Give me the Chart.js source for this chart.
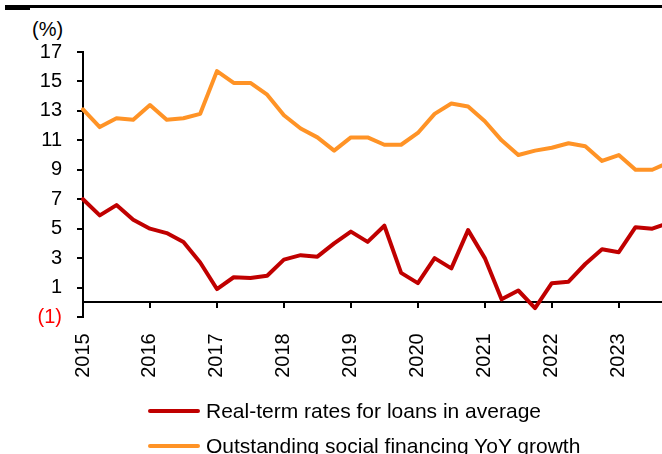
<!DOCTYPE html>
<html>
<head>
<meta charset="utf-8">
<script src="https://cdn.jsdelivr.net/npm/chart.js@4.4.1/dist/chart.umd.min.js"></script>
<style>
  html, body { margin: 0; padding: 0; background: #fff; overflow: hidden; width: 662px; height: 454px; }
  body { position: relative; font-family: "Liberation Sans", Arial, sans-serif; color: #000; }
  #chartBox { position: absolute; left: 0; top: 0; }
  .rule { position: absolute; background: #000; }
  #unit { position: absolute; left: 32px; top: 18px; font-size: 20px; line-height: 23px; }
  #legend { position: absolute; left: 148px; top: 394px; }
  .legend-item { display: flex; align-items: center; height: 34.5px; font-size: 21px; white-space: nowrap; }
  .legend-line { width: 52px; height: 4px; border-radius: 2px; margin-right: 6px; }
</style>
</head>
<body>
<div class="rule" style="left:5px; top:5px; width:657px; height:3px;"></div>
<div class="rule" style="left:5px; top:6px; width:25px; height:4px;"></div>
<div id="unit">(%)</div>
<canvas id="chartBox" width="672" height="454"></canvas>
<div id="legend"></div>
<script>
const quarters = [
  '2015Q1', '2015Q2', '2015Q3', '2015Q4',
  '2016Q1', '2016Q2', '2016Q3', '2016Q4',
  '2017Q1', '2017Q2', '2017Q3', '2017Q4',
  '2018Q1', '2018Q2', '2018Q3', '2018Q4',
  '2019Q1', '2019Q2', '2019Q3', '2019Q4',
  '2020Q1', '2020Q2', '2020Q3', '2020Q4',
  '2021Q1', '2021Q2', '2021Q3', '2021Q4',
  '2022Q1', '2022Q2', '2022Q3', '2022Q4',
  '2023Q1', '2023Q2', '2023Q3', '2023Q4'
];

// real-term average lending rate (%)
const realLoanRate = [
  7.0, 5.9, 6.6, 5.6, 5.0, 4.7, 4.1, 2.7,
  0.9, 1.7, 1.65, 1.8, 2.9, 3.2, 3.1, 4.0,
  4.8, 4.1, 5.2, 2.0, 1.3, 3.0, 2.3, 4.9,
  3.0, 0.2, 0.8, -0.4, 1.3, 1.4, 2.6, 3.6,
  3.4, 5.1, 5.0, 5.4
];

// outstanding social financing, YoY (%)
const socialFinancingGrowth = [
  13.1, 11.9, 12.5, 12.4, 13.4, 12.4, 12.5, 12.8,
  15.7, 14.9, 14.9, 14.1, 12.7, 11.8, 11.2, 10.3,
  11.2, 11.2, 10.7, 10.7, 11.5, 12.8, 13.5, 13.3,
  12.3, 11.0, 10.0, 10.3, 10.5, 10.8, 10.6, 9.6,
  10.0, 9.0, 9.0, 9.5
];

const seriesNames = ['Real-term rates for loans in average', 'Outstanding social financing YoY growth'];
const seriesColors = ['#C00000', '#FF9326'];

const yMin = -1;
const yMax = 17;
const yStep = 2;

const tickFont = { family: "'Liberation Sans', Arial, sans-serif", size: 20 };

const ctx = document.getElementById('chartBox').getContext('2d');

const chart = new Chart(ctx, {
  type: 'line',
  data: {
    labels: quarters,
    datasets: [
      { label: seriesNames[0], data: realLoanRate, borderColor: seriesColors[0], backgroundColor: seriesColors[0] },
      { label: seriesNames[1], data: socialFinancingGrowth, borderColor: seriesColors[1], backgroundColor: seriesColors[1] }
    ]
  },
  options: {
    responsive: false,
    animation: false,
    layout: { padding: { top: 52, right: 3, bottom: 137, left: 0 } },
    plugins: {
      legend: { display: false },
      tooltip: { enabled: false }
    },
    elements: {
      point: { radius: 0 },
      line: { borderWidth: 4, tension: 0, borderJoinStyle: 'round', borderCapStyle: 'round' }
    },
    scales: {
      x: {
        type: 'category',
        position: { y: 0 },
        grid: { drawOnChartArea: false, tickLength: 5, color: '#000', lineWidth: 2 },
        border: { color: '#000', width: 2 },
        // one tick per year
        afterBuildTicks: scale => {
          scale.ticks = scale.ticks.filter(t => t.value % 4 === 0);
        },
        ticks: {
          autoSkip: false,
          minRotation: 90,
          maxRotation: 90,
          padding: 26,
          color: '#000',
          font: tickFont,
          callback: v => quarters[v].slice(0, 4)
        }
      },
      y: {
        min: yMin,
        max: yMax,
        afterFit: scale => { scale.width = 83; },
        grid: { drawOnChartArea: false, tickLength: 6, color: '#000', lineWidth: 2 },
        border: { color: '#000', width: 2 },
        ticks: {
          stepSize: yStep,
          padding: 15,
          font: tickFont,
          color: c => c.tick.value < 0 ? '#FF0000' : '#000',
          callback: v => v < 0 ? '(' + Math.abs(v) + ')' : String(v)
        }
      }
    }
  }
});

// legend stacked under the plot
const legendBox = document.getElementById('legend');
chart.data.datasets.forEach(ds => {
  const item = document.createElement('div');
  item.className = 'legend-item';
  const line = document.createElement('span');
  line.className = 'legend-line';
  line.style.background = ds.borderColor;
  item.appendChild(line);
  item.appendChild(document.createTextNode(ds.label));
  legendBox.appendChild(item);
});
</script>
</body>
</html>
